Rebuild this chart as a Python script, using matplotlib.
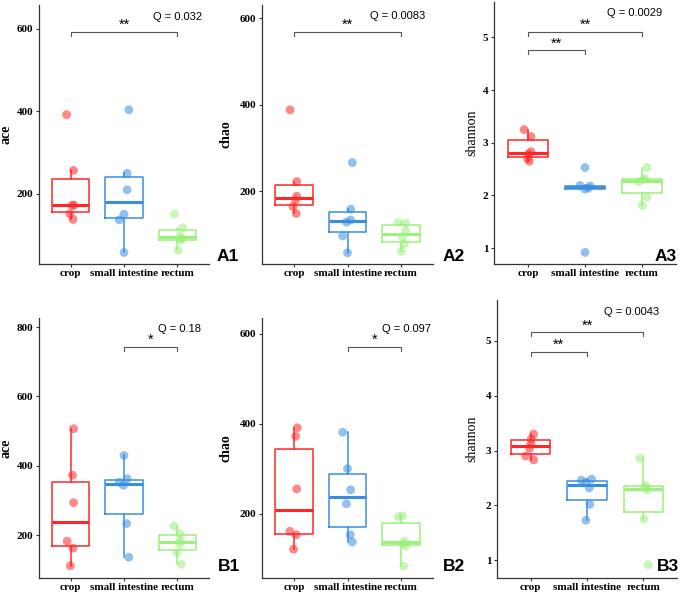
import numpy as np
import matplotlib
matplotlib.use("Agg")
import matplotlib.pyplot as plt

groups = ["crop", "small intestine", "rectum"]
colors = ["#FF2626", "#3A8EE0", "#9CF07C"]

# values (one list per group)
ace_a = [[138, 152, 172, 173, 257, 392], [58, 137, 151, 210, 250, 404], [63, 88, 92, 98, 118, 151]]
chao_a = [[148, 164, 179, 188, 222, 388], [57, 96, 128, 133, 158, 266], [61, 78, 94, 107, 125, 127]]
shannon_a = [[2.65, 2.70, 2.79, 2.83, 3.12, 3.25], [0.92, 2.12, 2.14, 2.18, 2.19, 2.53], [1.81, 1.97, 2.26, 2.30, 2.32, 2.53]]
ace_b = [[112, 163, 183, 294, 373, 507], [137, 234, 344, 353, 363, 430], [117, 150, 176, 186, 205, 227]]
chao_b = [[121, 153, 161, 255, 372, 391], [137, 153, 222, 253, 300, 381], [83, 128, 133, 139, 193, 195]]
shannon_b = [[2.83, 2.90, 3.04, 3.12, 3.21, 3.30], [1.73, 2.02, 2.32, 2.42, 2.46, 2.48], [0.92, 1.75, 2.28, 2.32, 2.36, 2.86]]

q_labels = ["Q = 0.032", "Q = 0.0083", "Q = 0.0029", "Q = 0.18", "Q = 0.097", "Q = 0.0043"]
tags = ["A1", "A2", "A3", "B1", "B2", "B3"]

# horizontal jitter of the dots (category units)
jit_ace_a = [[0.04, -0.02, 0.02, 0.06, 0.05, -0.08], [0.0, -0.09, 0.0, 0.06, 0.06, 0.09], [0.02, 0.07, 0.08, 0.05, 0.1, -0.05]]
jit_chao_a = [[0.04, -0.02, 0.03, 0.05, 0.05, -0.075], [0.0, -0.09, -0.02, 0.06, 0.06, 0.09], [0.01, 0.06, 0.03, 0.09, 0.09, -0.05]]
jit_sh_a = [[0.02, -0.01, 0.01, 0.05, 0.05, -0.07], [0.0, 0.0, 0.06, 0.09, -0.09, 0.0], [0.01, 0.09, -0.06, 0.03, 0.05, 0.09]]
jit_ace_b = [[-0.01, 0.04, -0.07, 0.05, 0.03, 0.05], [0.09, 0.05, -0.01, -0.09, 0.06, 0.0], [0.08, 0.0, 0.05, 0.06, 0.05, -0.06]]
jit_chao_b = [[-0.01, 0.04, -0.08, 0.05, 0.03, 0.06], [0.09, 0.05, -0.02, 0.06, 0.0, -0.09], [0.05, 0.09, 0.03, 0.07, -0.05, 0.03]]
jit_sh_b = [[0.05, -0.09, -0.02, 0.0, 0.01, 0.05], [-0.02, 0.05, 0.04, -0.02, -0.1, 0.08], [0.09, 0.01, 0.08, 0.03, 0.04, -0.06]]

W, H = 685, 595
fig = plt.figure(figsize=(W / 100, H / 100), dpi=100)
serif = "Liberation Serif"
sans = "Liberation Sans"


def px_rect(l, t, r, b):
    return [l / W, 1 - b / H, (r - l) / W, (b - t) / H]


def panel(rect, data, jit, ylim, yticks, ylabel, lab_bold, lab_off, brackets, q, qpos, tag, tagpos):
    ax = fig.add_axes(px_rect(*rect))
    for i, vals in enumerate(data):
        ax.boxplot(vals, positions=[i], widths=0.7, showfliers=False, showcaps=False,
                   boxprops=dict(color=colors[i], lw=1.1),
                   whiskerprops=dict(color=colors[i], lw=1.1),
                   medianprops=dict(color=colors[i], lw=2.2))
        ax.scatter(np.array(jit[i]) + i, vals, s=40, color=colors[i], alpha=0.55,
                   edgecolors="none", zorder=3)
    ax.set_xlim(-0.6, 2.6)
    ax.set_ylim(*ylim)
    ax.set_yticks(yticks)
    ax.set_xticks([0, 1, 2])
    ax.set_xticklabels(groups)
    for lab in ax.get_xticklabels() + ax.get_yticklabels():
        lab.set_fontfamily(serif)
        lab.set_fontweight("bold")
        lab.set_fontsize(8)
    ax.tick_params(axis="y", length=2.2, width=0.8, pad=2, colors="#333333", labelcolor="black")
    ax.tick_params(axis="x", length=2.2, width=0.8, pad=1.5, colors="#333333", labelcolor="black")
    ax.spines["top"].set_visible(False)
    ax.spines["right"].set_visible(False)
    for s in ["left", "bottom"]:
        ax.spines[s].set_color("#333333")
        ax.spines[s].set_linewidth(0.9)
    ax.set_ylabel(ylabel, fontfamily=serif, fontsize=10,
                  fontweight="bold" if lab_bold else "normal")
    ax.yaxis.set_label_coords(-lab_off / (rect[2] - rect[0]), 0.5)
    tip = (ylim[1] - ylim[0]) * 0.014
    for x1, x2, yb, star in brackets:
        ax.plot([x1, x1, x2, x2], [yb - tip, yb, yb, yb - tip], color="#555555", lw=0.8)
        ax.text((x1 + x2) / 2, yb, star, ha="center", va="bottom", fontfamily=sans, fontsize=10.5)
    fig.text(qpos[0] / W, 1 - qpos[1] / H, q, ha="center", va="center", fontfamily=sans, fontsize=8)
    fig.text(tagpos[0] / W, 1 - tagpos[1] / H, tag, ha="left", va="baseline",
             fontfamily=sans, fontweight="bold", fontsize=12.5)


panel((39, 5, 209, 264), ace_a, jit_ace_a, (30, 658), [200, 400, 600], "ace", True, 26,
      [(0, 2, 592, "**")], q_labels[0], (178, 17), tags[0], (217, 261))
panel((262, 5, 433, 264), chao_a, jit_chao_a, (31, 631), [200, 400, 600], "chao", True, 29,
      [(0, 2, 568, "**")], q_labels[1], (398, 16), tags[1], (443, 261))
panel((494, 2, 676, 264), shannon_a, jit_sh_a, (0.70, 5.67), [1, 2, 3, 4, 5], "shannon", False, 16,
      [(0, 2, 5.1, "**"), (0, 1, 4.75, "**")], q_labels[2], (635, 13), tags[2], (655, 261))
panel((39, 318, 209, 578), ace_b, jit_ace_b, (77, 826), [200, 400, 600, 800], "ace", True, 26,
      [(1, 2, 742, "*")], q_labels[3], (180, 329), tags[3], (218, 571))
panel((262, 318, 433, 578), chao_b, jit_chao_b, (57, 635), [200, 400, 600], "chao", True, 29,
      [(1, 2, 570, "*")], q_labels[4], (406, 329), tags[4], (443, 571))
panel((497, 300, 677, 578), shannon_b, jit_sh_b, (0.68, 5.74), [1, 2, 3, 4, 5], "shannon", False, 19,
      [(0, 2, 5.15, "**"), (0, 1, 4.79, "**")], q_labels[5], (632, 312), tags[5], (657, 571))

fig.savefig("out.png", dpi=100)
